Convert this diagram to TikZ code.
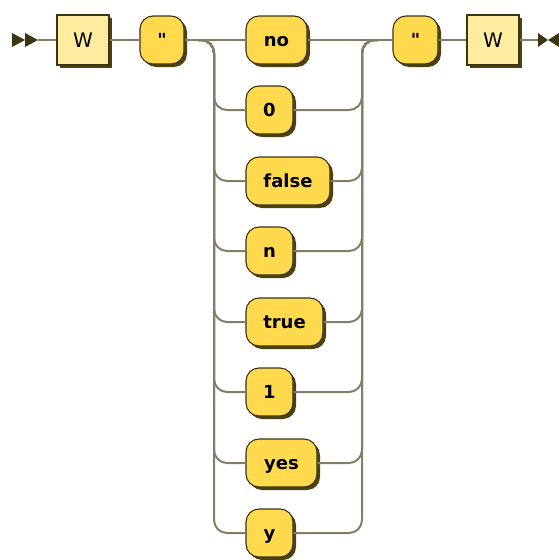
\documentclass[tikz,border=0pt]{standalone}
\usepackage{fontspec}
\setmainfont[Ligatures=TeXOff]{DejaVu Sans}
\usetikzlibrary{shadows}
\definecolor{railc}{HTML}{847E68}
\definecolor{edgec}{HTML}{3B3512}
\definecolor{shadec}{HTML}{4A4210}
\definecolor{termfill}{HTML}{FFDA4F}
\definecolor{ntfill}{HTML}{FFEC9E}
\tikzset{
  rail/.style={draw=railc, line width=2pt, rounded corners=13pt},
  boxbase/.style={draw=edgec, line width=1.1pt, minimum height=48pt, inner sep=0pt,
    drop shadow={shadow xshift=3pt, shadow yshift=-3pt, fill=shadec, opacity=1}},
  term/.style={boxbase, fill=termfill, rounded corners=13pt,
    font=\bfseries\fontsize{18}{18}\selectfont, text height=12pt, text depth=0pt},
  nonterm/.style={boxbase, fill=ntfill, minimum width=52pt, minimum height=50pt,
    font=\fontsize{20}{20}\selectfont, text height=15pt, text depth=0pt},
  tip/.style={fill=edgec, draw=none}
}
\begin{document}
\begin{tikzpicture}[x=1pt, y=-1pt]
\useasboundingbox (0,0) rectangle (559,560);

% entry and exit marks
\fill[tip] (12,33) -- (25,40) -- (12,47) -- cycle;
\fill[tip] (25,33) -- (38,40) -- (25,47) -- cycle;
\coordinate (start) at (38,40);
\fill[tip] (538,33) -- (548,40) -- (538,47) -- cycle;
\fill[tip] (559,33) -- (548,40) -- (559,47) -- cycle;
\coordinate (finish) at (538,40);

% junction points of the choice
\coordinate (jl) at (198,40);
\coordinate (lx) at (214,40);
\coordinate (rx) at (362,40);
\coordinate (jr) at (378,40);

% sequence boxes
\node[nonterm] (w1) at (83,40) {W};
\node[term, minimum width=44pt] (q1) at (162,40) {"};
\node[term, minimum width=45pt] (q2) at (415.5,40) {"};
\node[nonterm] (w2) at (493,40) {W};

% choice boxes
\node[term, minimum width=61pt] (b1) at (276.5,40)  {no};
\node[term, minimum width=47pt] (b2) at (269.5,110) {0};
\node[term, minimum width=84pt] (b3) at (288,181)   {false};
\node[term, minimum width=47pt] (b4) at (269.5,251) {n};
\node[term, minimum width=77pt] (b5) at (284.5,322) {true};
\node[term, minimum width=47pt] (b6) at (269.5,392) {1};
\node[term, minimum width=71pt] (b7) at (281.5,463) {yes};
\node[term, minimum width=47pt] (b8) at (269.5,533) {y};

% connectors
\draw[rail] (start) -- (w1.west);
\draw[rail] (w1.east) -- (q1.west);
\draw[rail] (q1.east) -- (b1.west);
\draw[rail] (b1.east) -- (q2.west);
\draw[rail] (q2.east) -- (w2.west);
\draw[rail] (w2.east) -- (finish);
\foreach \b in {b2,b3,b4,b5,b6,b7,b8}{
  \draw[rail] (jl) -- (lx) -- (lx |- \b.west) -- (\b.west);
  \draw[rail] (\b.east) -- (rx |- \b.east) -- (rx) -- (jr);
}
\end{tikzpicture}
\end{document}
